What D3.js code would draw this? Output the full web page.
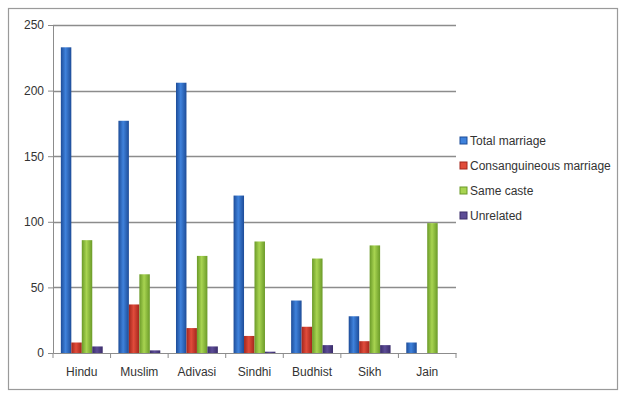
<!DOCTYPE html>
<html>
<head>
<meta charset="utf-8">
<script src="https://cdn.jsdelivr.net/npm/d3@7"></script>
<style>
  body { margin: 0; background: #fff; }
  text { font-family: "Liberation Sans", Arial, sans-serif; fill: #333; }
</style>
</head>
<body>
<div id="chart"></div>
<script>
// religion groups and the four series
const categories = ['Hindu', 'Muslim', 'Adivasi', 'Sindhi', 'Budhist', 'Sikh', 'Jain'];
const seriesNames = ['Total marriage', 'Consanguineous marriage', 'Same caste', 'Unrelated'];
const totalMarriage = [233, 177, 206, 120, 40, 28, 8];
const consanguineous = [8, 37, 19, 13, 20, 9, 0];
const sameCaste = [86, 60, 74, 85, 72, 82, 99];
const unrelated = [5, 2, 5, 1, 6, 6, 0];
const yTicks = [0, 50, 100, 150, 200, 250];

const W = 619, H = 394;
const margin = { top: 25, left: 53, right: 163, bottom: 41 };

const svg = d3.select('#chart').append('svg')
  .attr('width', W)
  .attr('height', H);

// colours: [edge, centre] for the shaded bars
const colors = [
  ['#1d4c98', '#3f82dc'],
  ['#a3261c', '#e14c3b'],
  ['#6a9a28', '#a8d451'],
  ['#3a2c6a', '#5c4c96']
];
const defs = svg.append('defs');
colors.forEach((c, i) => {
  const gr = defs.append('linearGradient')
    .attr('id', 'g' + i)
    .attr('x1', 0).attr('x2', 1).attr('y1', 0).attr('y2', 0);
  gr.append('stop').attr('offset', '0%').attr('stop-color', c[0]);
  gr.append('stop').attr('offset', '45%').attr('stop-color', c[1]);
  gr.append('stop').attr('offset', '100%').attr('stop-color', c[0]);
});

// outer frame
svg.append('rect')
  .attr('x', 8.5).attr('y', 8.5)
  .attr('width', 609).attr('height', 381)
  .attr('fill', 'none')
  .attr('stroke', '#9a9a9a')
  .attr('stroke-width', 1.2);

const x = d3.scaleBand()
  .domain(categories)
  .range([margin.left, W - margin.right]);

const inner = d3.scaleBand()
  .domain(seriesNames)
  .range([0, x.bandwidth()])
  .paddingOuter(0.75)
  .paddingInner(0);

const y = d3.scaleLinear()
  .domain([0, 250])
  .range([H - margin.bottom, margin.top]);

// gridlines
svg.append('g')
  .selectAll('line')
  .data(yTicks.filter(d => d > 0))
  .join('line')
  .attr('x1', margin.left)
  .attr('x2', W - margin.right)
  .attr('y1', d => Math.round(y(d)) + 0.5)
  .attr('y2', d => Math.round(y(d)) + 0.5)
  .attr('stroke', '#8c8c8c')
  .attr('stroke-width', 1.3);

// y axis
const yAxis = svg.append('g')
  .attr('transform', `translate(${margin.left},0)`)
  .call(d3.axisLeft(y).tickValues(yTicks).tickSize(5).tickPadding(4));
yAxis.select('.domain').attr('stroke', '#8c8c8c');
yAxis.selectAll('.tick line').attr('stroke', '#8c8c8c');
yAxis.selectAll('.tick text').style('font-size', '12px').style('fill', '#333');

// bars
const series = [totalMarriage, consanguineous, sameCaste, unrelated];
series.forEach((vals, si) => {
  svg.append('g')
    .selectAll('rect')
    .data(categories)
    .join('rect')
    .attr('x', c => x(c) + inner(seriesNames[si]))
    .attr('width', inner.bandwidth())
    .attr('y', (c, i) => y(vals[i]))
    .attr('height', (c, i) => y(0) - y(vals[i]))
    .attr('fill', `url(#g${si})`);
});

// x axis
const xAxis = svg.append('g')
  .attr('transform', `translate(0,${y(0)})`)
  .call(d3.axisBottom(x).tickSize(0).tickPadding(14));
xAxis.select('.domain').attr('stroke', '#8c8c8c');
xAxis.selectAll('.tick text').style('font-size', '12px').style('fill', '#333');
// category separators
xAxis.append('g')
  .selectAll('line')
  .data(categories.concat(['end']))
  .join('line')
  .attr('x1', (d, i) => margin.left + i * x.bandwidth())
  .attr('x2', (d, i) => margin.left + i * x.bandwidth())
  .attr('y1', 0).attr('y2', 5)
  .attr('stroke', '#8c8c8c');

// legend
const legend = svg.append('g')
  .attr('transform', 'translate(460,141)');
const item = legend.selectAll('g')
  .data(seriesNames)
  .join('g')
  .attr('transform', (d, i) => `translate(0,${i * 25})`);
item.append('rect')
  .attr('x', 0).attr('y', -4)
  .attr('width', 7).attr('height', 7)
  .attr('fill', (d, i) => colors[i][1])
  .attr('stroke', (d, i) => colors[i][0]);
item.append('text')
  .attr('x', 10)
  .attr('y', 4)
  .style('font-size', '12px')
  .text(d => d);
</script>
</body>
</html>
